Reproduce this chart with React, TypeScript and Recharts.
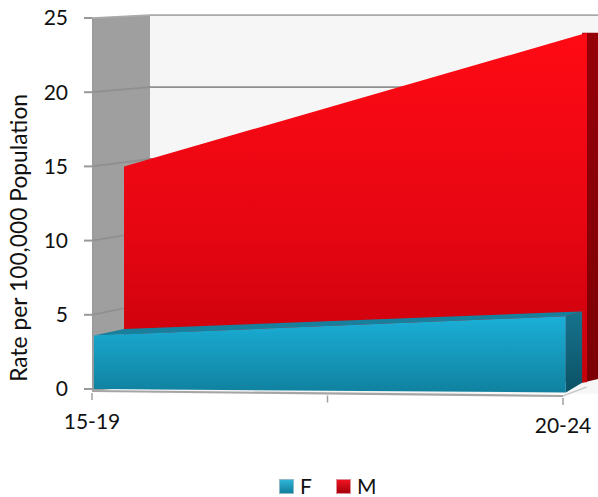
import { ComposedChart, Area, XAxis, YAxis, Legend } from 'recharts'

const ages = ['15-19', '20-24']
const femaleRates = [3.6, 4.9]
const maleRates = [15, 24]
const rateTicks = [0, 5, 10, 15, 20, 25]
const gridRise = [0, 0.8, 0.65, 0.5, 0.34, 0.2]
const legendItems = [
  { name: 'F', from: '#2fb4d6', to: '#0f7f9c', edge: '#8fb9c6' },
  { name: 'M', from: '#ef1420', to: '#a8000c', edge: '#d98f95' },
]

// fake 3D: x runs 0..1 on the front plane, anything above 1 is depth
const xMax = 1.0743
const xWall = 0.1231
const femaleFront = [0.004, 1.006]
const femaleBack = [0.068, 1.0406]
const maleFront = [0.068, 1.051]
const femaleBackRates = [4.04, 5.22]
const font = 'Lato, Carlito, sans-serif'

const face = (xs: number[], low: number[], high: number[]) =>
  xs.map((x, i) => ({ x, range: [low[i], high[i]] }))

// lines are thin range areas so the red and teal faces can cover them
const stripe = (xs: number[], ys: number[], half = 0.06) =>
  face(xs, ys.map((y) => y - half), ys.map((y) => y + half))

const wallBack = face([xWall, xMax], [-0.3, -0.3], [25.2, 25.2])
const wallSide = face([0, xWall], [-0.13, 0.25], [25, 25.2])
const maleSide = face([femaleBack[1], xMax], [0.42, 0.67], [maleRates[1], maleRates[1]])
const maleFace = face(maleFront, [0, 0.45], maleRates)
const femaleTop = face(
  [femaleFront[0], femaleBack[0], femaleFront[1], femaleBack[1]],
  [femaleRates[0], 3.68, femaleRates[1], femaleBackRates[1]],
  [femaleRates[0], femaleBackRates[0], 5.18, femaleBackRates[1]],
)
const femaleSide = face([femaleFront[1], femaleBack[1]], [-0.23, 0.42], [femaleRates[1], femaleBackRates[1]])
const femaleFace = face(femaleFront, [0, -0.23], femaleRates)

const gridLines = rateTicks.slice(1).map((v, i) => ({
  v,
  points: stripe([0, xWall, xMax], [v, v + gridRise[i + 1], v + gridRise[i + 1]]),
}))
const leftEdge = face([0, 0.003], [-0.13, -0.13], [25, 25])
const floorEdge = stripe([0, 1], [-0.13, -0.47], 0.07)
const floorSide = stripe([1, 1.05], [-0.47, 0.13], 0.05)

const AgeTick = (props: any) => {
  const { x, y, payload } = props
  const drop = payload.value * 5
  return (
    <g>
      <line x1={x} x2={x} y1={y - 6 + drop} y2={y + 1 + drop} stroke="#a0a0a0" strokeWidth={1.5} />
      <text x={x} y={y + 30 + payload.value * 4} textAnchor="middle" fontFamily={font} fontSize={21} fill="#111">
        {ages[payload.value]}
      </text>
    </g>
  )
}

const ChartLegend = () => (
  <div style={{ display: 'flex', alignItems: 'center', fontFamily: font, fontSize: 21, color: '#111', lineHeight: '18px', position: 'absolute', left: 279, top: 0 }}>
    {legendItems.map((item) => (
      <div key={item.name} style={{ display: 'flex', alignItems: 'center', width: 57 }}>
        <span style={{ width: 13, height: 13, marginRight: 6, border: `1px solid ${item.edge}`, background: `linear-gradient(${item.from}, ${item.to})` }} />
        {item.name}
      </div>
    ))}
  </div>
)

const App = () => {
  const area = (data: any[], fill: string, key: string) => (
    <Area
      key={key}
      data={data}
      dataKey="range"
      type="linear"
      fill={fill}
      fillOpacity={1}
      stroke="none"
      dot={false}
      activeDot={false}
      legendType="none"
      isAnimationActive={false}
    />
  )

  return (
    <div style={{ position: 'absolute', left: 0, top: 0 }}>
      <ComposedChart width={598} height={497} margin={{ top: 10.6, right: 0, bottom: 0, left: 0 }}>
        <defs>
          <linearGradient id="maleFill" x1="0" y1="0" x2="0" y2="1">
            <stop offset="0%" stopColor="#ff0a14" />
            <stop offset="55%" stopColor="#e60612" />
            <stop offset="100%" stopColor="#c4000b" />
          </linearGradient>
          <linearGradient id="femaleFill" x1="0" y1="0" x2="0" y2="1">
            <stop offset="0%" stopColor="#1bb0d8" />
            <stop offset="100%" stopColor="#10819f" />
          </linearGradient>
          <linearGradient id="femaleSideFill" x1="0" y1="0" x2="0" y2="1">
            <stop offset="0%" stopColor="#17738d" />
            <stop offset="100%" stopColor="#0b5266" />
          </linearGradient>
          <linearGradient id="maleSideFill" x1="0" y1="0" x2="0" y2="1">
            <stop offset="0%" stopColor="#950008" />
            <stop offset="100%" stopColor="#7c0006" />
          </linearGradient>
        </defs>
        <XAxis
          type="number"
          dataKey="x"
          domain={[0, xMax]}
          ticks={[0, 0.5, 1]}
          interval={0}
          axisLine={false}
          tickLine={false}
          tickSize={0}
          tick={AgeTick}
          height={80}
          allowDuplicatedCategory={false}
        />
        <YAxis
          type="number"
          domain={[-0.5, 25.5]}
          ticks={rateTicks}
          interval={0}
          width={92}
          axisLine={false}
          tickLine={{ stroke: '#999', strokeWidth: 2 }}
          tickSize={8}
          tickMargin={16}
          tick={{ fontFamily: font, fontSize: 21, fill: '#111' }}
          label={{
            value: 'Rate per 100,000 Population',
            angle: -90,
            position: 'insideLeft',
            dx: 14,
            dy: 178,
            style: { fontFamily: font, fontSize: 22.8, fill: '#111' },
          }}
        />
        <Legend content={<ChartLegend />} verticalAlign="bottom" height={20} />
        {area(wallBack, '#f6f6f6', 'wallBack')}
        {area(wallSide, '#9f9f9f', 'wallSide')}
        {gridLines.map((g) => area(g.points, g.v === 25 ? '#aaaaaa' : '#8f8f8f', `grid${g.v}`))}
        {area(leftEdge, '#9a9a9a', 'leftEdge')}
        {area(floorEdge, '#a5a5a5', 'floorEdge')}
        {area(floorSide, '#c8c8c8', 'floorSide')}
        {area(maleSide, 'url(#maleSideFill)', 'maleSide')}
        {area(maleFace, 'url(#maleFill)', 'maleFace')}
        {area(femaleTop, '#17809c', 'femaleTop')}
        {area(femaleSide, 'url(#femaleSideFill)', 'femaleSide')}
        {area(femaleFace, 'url(#femaleFill)', 'femaleFace')}
      </ComposedChart>
    </div>
  )
}

export default App
